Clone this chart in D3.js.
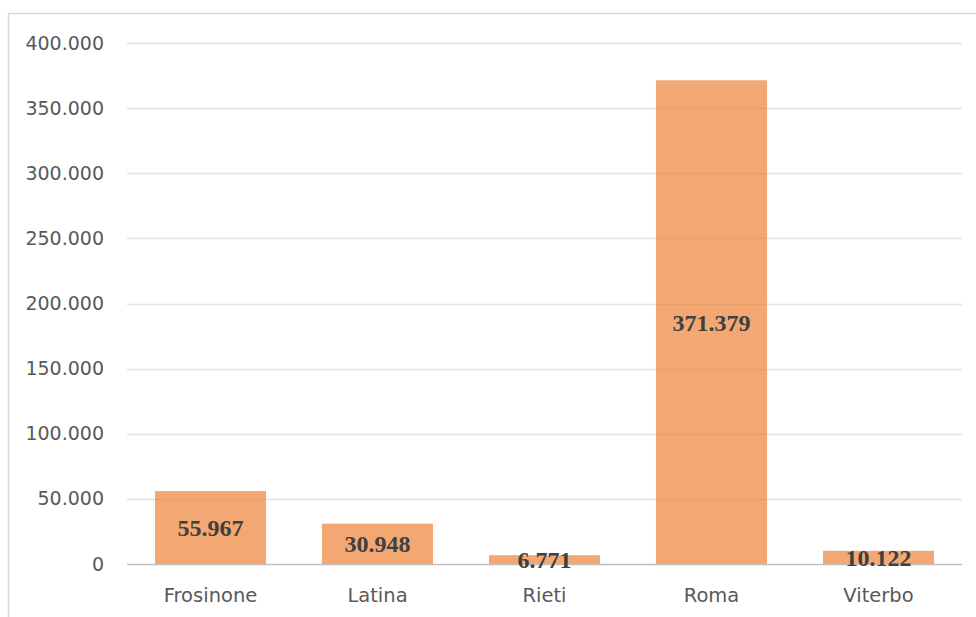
<!DOCTYPE html>
<html><head><meta charset="utf-8">
<script src="https://cdn.jsdelivr.net/npm/d3@7"></script>
<style>html,body{margin:0;padding:0;background:#fff;}svg{display:block;}</style>
</head><body>
<script>
const categories = ["Frosinone", "Latina", "Rieti", "Roma", "Viterbo"];
const values = [55967, 30948, 6771, 371379, 10122];
const yTicks = [0, 50000, 100000, 150000, 200000, 250000, 300000, 350000, 400000];

const W = 976, H = 617;
const svg = d3.select("body").append("svg").attr("width", W).attr("height", H);

// chart frame
svg.append("path").attr("d", "M8.5,625 V13.5 H990")
  .attr("fill", "none").attr("stroke", "#d9d9d9").attr("stroke-width", 1.5);

const x = d3.scaleBand().domain(categories).range([127, 962]).paddingInner(0.335).paddingOuter(0.1675);
const y = d3.scaleLinear().domain([0, 400000]).range([564, 43]);

const fmt = v => d3.format(",")(v).replace(/,/g, ".");

// gridlines
svg.append("g").selectAll("line").data(yTicks.filter(d => d > 0)).join("line")
  .attr("x1", 127).attr("x2", 962)
  .attr("y1", d => Math.round(y(d)) + 0.5).attr("y2", d => Math.round(y(d)) + 0.5)
  .attr("stroke", "#e3e3e3").attr("stroke-width", 1.3);

// y tick labels
const yAxis = d3.axisLeft(y).tickValues(yTicks).tickFormat(fmt).tickSize(0).tickPadding(0);
const ga = svg.append("g").attr("transform", "translate(104,0)").call(yAxis);
ga.select(".domain").remove();
ga.selectAll("text").attr("font-family", "DejaVu Sans, sans-serif").attr("font-size", 19)
  .attr("fill", "#595959");

// bars
svg.append("g").selectAll("rect").data(values).join("rect")
  .attr("x", (d, i) => x(categories[i]))
  .attr("width", x.bandwidth())
  .attr("y", d => y(d))
  .attr("height", d => y(0) - y(d))
  .attr("fill", "#ED7D31").attr("fill-opacity", 0.68);

// baseline axis
const xAxis = d3.axisBottom(x).tickSize(0).tickPadding(24);
const gx = svg.append("g").attr("transform", "translate(0,564)").call(xAxis);
gx.select(".domain").attr("d", "M127,0.5H962").attr("stroke", "#bfbfbf").attr("stroke-width", 1.5);
gx.selectAll("text").attr("font-family", "DejaVu Sans, sans-serif").attr("font-size", 19.5)
  .attr("fill", "#595959");

// data labels
svg.append("g").selectAll("text").data(values).join("text")
  .attr("x", (d, i) => x(categories[i]) + x.bandwidth() / 2)
  .attr("y", d => (y(d) + y(0)) / 2)
  .attr("dy", "0.36em")
  .attr("text-anchor", "middle")
  .attr("font-family", "Liberation Serif, Times New Roman, serif")
  .attr("font-weight", "bold").attr("font-size", 24)
  .attr("fill", "#404040")
  .text(d => fmt(d));
</script>
</body></html>
